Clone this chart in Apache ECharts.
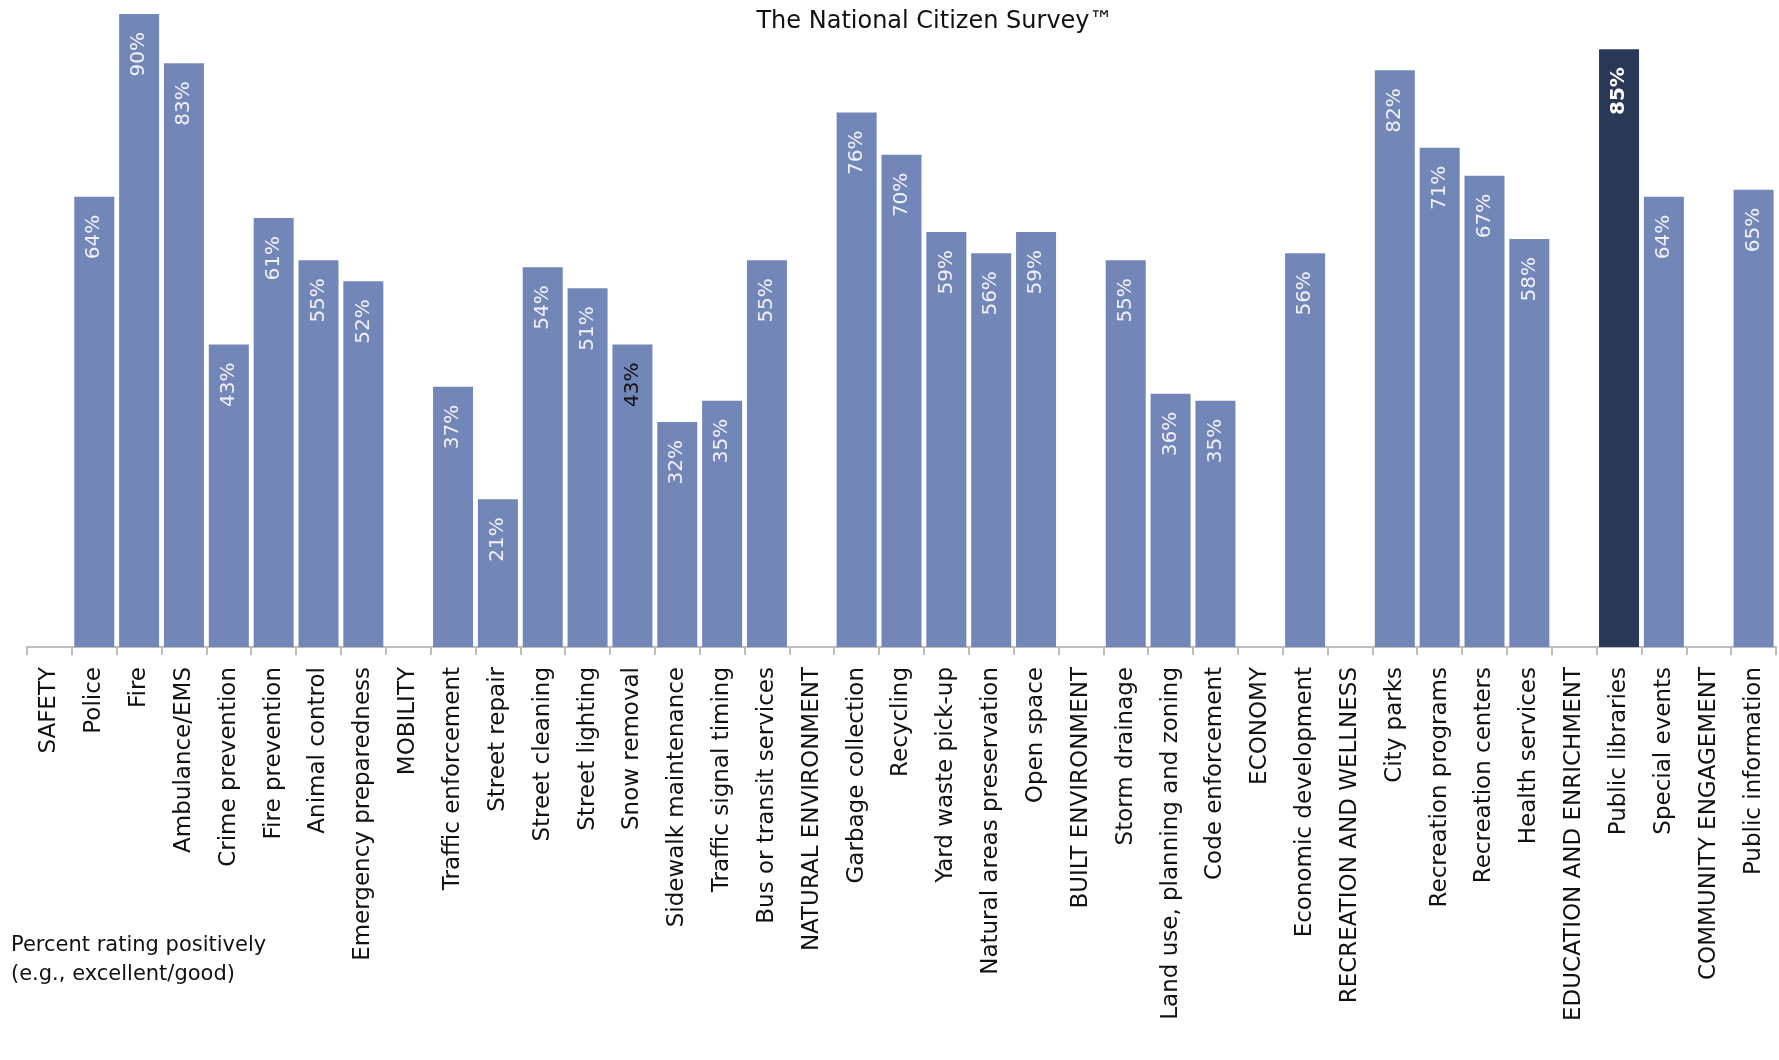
<!DOCTYPE html>
<html>
<head>
<meta charset="utf-8">
<script src="https://cdn.jsdelivr.net/npm/echarts@6/dist/echarts.min.js"></script>
<style>
html,body{margin:0;padding:0;background:#fff;}
#chart{width:1779px;height:1060px;}
</style>
</head>
<body>
<div id="chart"></div>
<script>
var categories = [
  "SAFETY","Police","Fire","Ambulance/EMS","Crime prevention","Fire prevention","Animal control","Emergency preparedness",
  "MOBILITY","Traffic enforcement","Street repair","Street cleaning","Street lighting","Snow removal","Sidewalk maintenance","Traffic signal timing","Bus or transit services",
  "NATURAL ENVIRONMENT","Garbage collection","Recycling","Yard waste pick-up","Natural areas preservation","Open space",
  "BUILT ENVIRONMENT","Storm drainage","Land use, planning and zoning","Code enforcement",
  "ECONOMY","Economic development",
  "RECREATION AND WELLNESS","City parks","Recreation programs","Recreation centers","Health services",
  "EDUCATION AND ENRICHMENT","Public libraries","Special events",
  "COMMUNITY ENGAGEMENT","Public information"
];
var values = [
  null,64,90,83,43,61,55,52,
  null,37,21,54,51,43,32,35,55,
  null,76,70,59,56,59,
  null,55,36,35,
  null,56,
  null,82,71,67,58,
  null,85,64,
  null,65
];
var highlightCategory = "Public libraries";
var darkLabelCategory = "Snow removal";
var titleText = "The National Citizen Survey\u2122";
var noteText = "Percent rating positively\n(e.g., excellent/good)";

var barColor = "#7386b8";
var highlightColor = "#2a3858";

var seriesData = values.map(function (v, i) {
  var item = { value: v };
  if (categories[i] === highlightCategory) {
    item.itemStyle = { color: highlightColor };
    item.label = { fontWeight: "bold", color: "#ffffff" };
  }
  if (categories[i] === darkLabelCategory) {
    item.label = { color: "#111111" };
  }
  return item;
});

var chart = echarts.init(document.getElementById("chart"));
chart.setOption({
  animation: false,
  backgroundColor: "#ffffff",
  title: {
    text: titleText,
    left: 930, top: 5, textAlign: "center",
    textStyle: { fontFamily: "DejaVu Sans", fontSize: 24, fontWeight: "normal", color: "#111" }
  },
  graphic: [{
    type: "text", left: 11, top: 931,
    style: { text: noteText, fontFamily: "DejaVu Sans", fontSize: 21, lineHeight: 29, fill: "#111" }
  }],
  grid: { left: 27, right: 3, top: 14, bottom: 413, containLabel: false },
  xAxis: {
    type: "category",
    data: categories,
    axisLine: { lineStyle: { color: "#bdbdbd", width: 2 } },
    axisTick: { show: true, length: 8, lineStyle: { color: "#bdbdbd", width: 2 } },
    axisLabel: {
      interval: 0, rotate: 90, margin: 20,
      fontFamily: "DejaVu Sans", fontSize: 23, color: "#111"
    }
  },
  yAxis: { type: "value", min: 0, max: 90, show: false, splitLine: { show: false } },
  series: [{
    type: "bar",
    data: seriesData,
    barWidth: 40,
    itemStyle: { color: barColor },
    label: {
      show: true, position: "insideTop", distance: 18,
      rotate: 90, align: "right", verticalAlign: "middle",
      formatter: function (p) { return p.value == null ? "" : p.value + "%"; },
      fontFamily: "DejaVu Sans", fontSize: 20, color: "#f2f3f8"
    }
  }]
});
</script>
</body>
</html>
